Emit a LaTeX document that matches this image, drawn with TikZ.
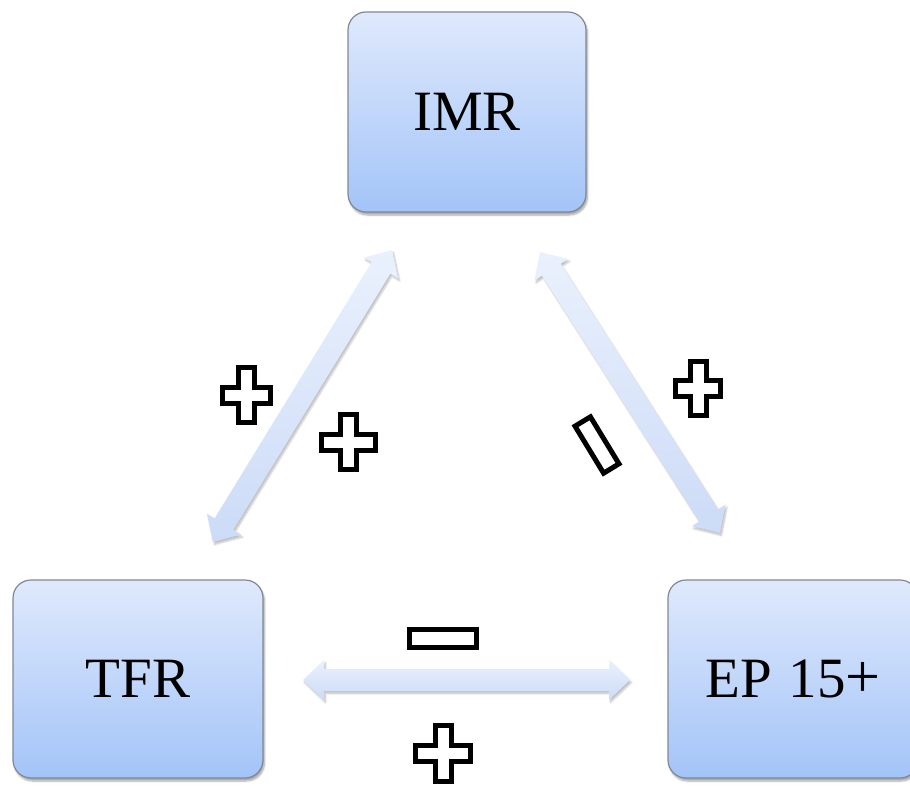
\documentclass[tikz,border=0pt]{standalone}
\usepackage{fontspec}
\setmainfont{Liberation Serif}
\usetikzlibrary{calc,shadows.blur}
\definecolor{boxtop}{RGB}{223,233,252}
\definecolor{boxbot}{RGB}{163,196,248}
\definecolor{boxline}{RGB}{128,136,150}
\definecolor{arrtop}{RGB}{234,241,253}
\definecolor{arrbot}{RGB}{204,219,247}
\tikzset{
  box/.style={draw=boxline, line width=1.2pt, rounded corners=18pt,
    top color=boxtop, bottom color=boxbot,
    blur shadow={shadow xshift=1.5pt, shadow yshift=-3pt, shadow opacity=35, shadow blur steps=6},
    font=\fontsize{57}{60}\selectfont, text=black, inner sep=0pt},
  link/.style={top color=arrtop, bottom color=arrbot, draw=none,
    blur shadow={shadow xshift=1.5pt, shadow yshift=-2.5pt, shadow opacity=25, shadow blur steps=5}},
  sign/.style={draw=black, line width=5pt, fill=white, line join=miter},
}
% double-headed block arrow between two named coordinates
\newcommand\dblarr[2]{%
  \path[link] (#1)
    -- ($(#1)!21pt!(#2)!20pt!90:(#2)$)
    -- ($(#1)!21pt!(#2)!11pt!90:(#2)$)
    -- ($(#2)!21pt!(#1)!11pt!-90:(#1)$)
    -- ($(#2)!21pt!(#1)!20pt!-90:(#1)$)
    -- (#2)
    -- ($(#2)!21pt!(#1)!20pt!90:(#1)$)
    -- ($(#2)!21pt!(#1)!11pt!90:(#1)$)
    -- ($(#1)!21pt!(#2)!11pt!-90:(#2)$)
    -- ($(#1)!21pt!(#2)!20pt!-90:(#2)$)
    -- cycle;}
% plus sign: centre x, centre y, half width, half height, half arm
\newcommand\plussign[5]{%
  \begin{scope}[shift={(#1,#2)}]
    \draw[sign] (-#5,-#4) -- (#5,-#4) -- (#5,-#5) -- (#3,-#5) -- (#3,#5)
      -- (#5,#5) -- (#5,#4) -- (-#5,#4) -- (-#5,#5) -- (-#3,#5)
      -- (-#3,-#5) -- (-#5,-#5) -- cycle;
  \end{scope}}
\begin{document}
\begin{tikzpicture}[x=1pt,y=-1pt]
  \useasboundingbox (0,0) rectangle (910,786);
  % boxes
  \node[box, minimum width=238pt, minimum height=200pt] (imr) at (467,112) {IMR};
  \node[box, minimum width=250pt, minimum height=198pt] (tfr) at (138,679) {TFR};
  \node[box, minimum width=250pt, minimum height=198pt] (ep) at (793,679) {EP\hspace{0.3em}15{\fontsize{62}{60}\selectfont+}};
  % arrow end points
  \coordinate (l1) at (213,542);
  \coordinate (l2) at (392,250);
  \coordinate (r1) at (540,252);
  \coordinate (r2) at (720,533);
  \coordinate (h1) at (303,680);
  \coordinate (h2) at (630,680);
  \dblarr{l1}{l2}
  \dblarr{r1}{r2}
  \dblarr{h1}{h2}
  % signs
  \plussign{246}{395}{24}{27.5}{8}
  \plussign{348}{442}{27}{27.5}{8}
  \plussign{698}{388}{22.5}{27}{8}
  \plussign{443}{753}{27.5}{28}{8}
  \draw[sign] (409.5,629.5) rectangle (476.5,647.5);
  \begin{scope}[shift={(597,445)}, rotate=-58.7]
    \draw[sign] (-27.5,-9) -- (27.5,-9) -- (27.5,9) -- (-27.5,9) -- cycle;
  \end{scope}
\end{tikzpicture}
\end{document}
